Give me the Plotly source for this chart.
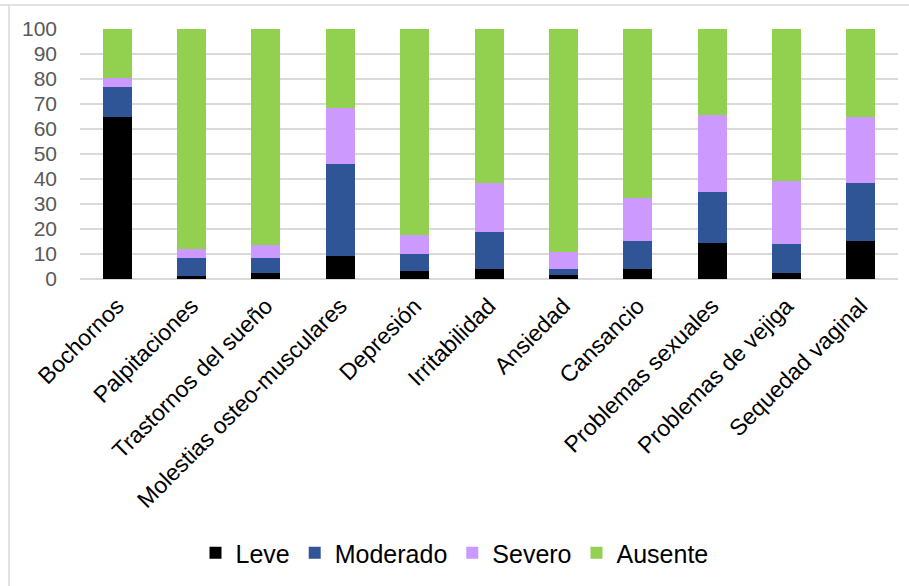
import plotly.graph_objects as go

categories = ["Bochornos", "Palpitaciones", "Trastornos del sueño", "Molestias osteo-musculares",
              "Depresión", "Irritabilidad", "Ansiedad", "Cansancio", "Problemas sexuales",
              "Problemas de vejiga", "Sequedad vaginal"]
leve = [65, 1.3, 2.3, 9.2, 3.1, 4.0, 1.5, 4.0, 14.3, 2.3, 15.1]
moderado = [12, 7.0, 6.0, 36.9, 6.9, 14.7, 2.4, 11.1, 20.6, 11.8, 23.2]
severo = [3.5, 3.6, 5.3, 22.3, 7.7, 19.7, 7.0, 17.2, 30.8, 25.1, 26.6]
ausente = [19.5, 88.1, 86.4, 31.6, 82.3, 61.6, 89.1, 67.7, 34.3, 60.8, 35.1]

series = [("Leve", leve, "#000000"), ("Moderado", moderado, "#2F5597"),
          ("Severo", severo, "#CC99FF"), ("Ausente", ausente, "#92D050")]

fig = go.Figure()
for name, vals, col in series:
    fig.add_trace(go.Bar(x=categories, y=vals, name=name,
                         marker=dict(color=col, line=dict(width=0))))

fig.update_layout(
    barmode="stack",
    bargap=0.61,
    width=909, height=586,
    margin=dict(l=80, r=11, t=29, b=307),
    paper_bgcolor="white", plot_bgcolor="white",
    font=dict(family="Liberation Sans, Arial, sans-serif", color="#000000"),
    xaxis=dict(tickangle=-45, tickfont=dict(size=23, color="#000000"),
               showgrid=False, showline=False, ticks="", ticklabelstandoff=8),
    yaxis=dict(range=[0, 100], dtick=10, showgrid=True, gridcolor="#D9D9D9", gridwidth=1.5,
               zeroline=True, zerolinecolor="#D9D9D9", zerolinewidth=1.5,
               tickfont=dict(size=21, color="#595959"), ticklabelstandoff=22),
    legend=dict(orientation="h", x=0.5, xanchor="center", xref="container",
                y=1 - 553 / 586, yanchor="middle", yref="container",
                font=dict(size=25, color="#000000"), traceorder="normal",
                itemwidth=30),
    showlegend=True,
    shapes=[
        dict(type="line", xref="paper", yref="paper", x0=-80/818, x1=1.02,
             y0=1 + 24/250, y1=1 + 24/250, line=dict(color="#D9D9D9", width=1.5)),
        dict(type="line", xref="paper", yref="paper", x0=-71/818, x1=-71/818,
             y0=1 + 24/250, y1=-1.3, line=dict(color="#D9D9D9", width=1.5)),
    ],
)

fig.write_html("out.html")
